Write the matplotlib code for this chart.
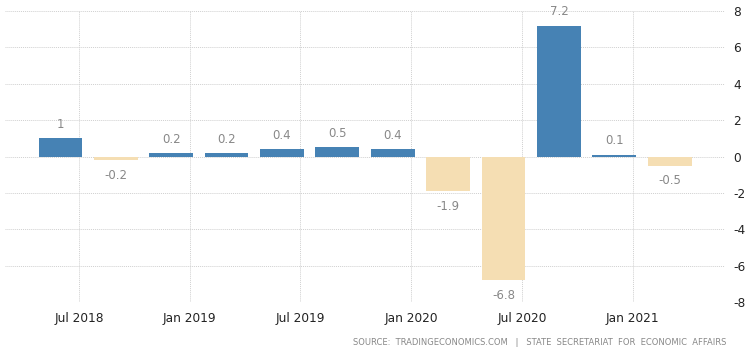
import matplotlib.pyplot as plt
import numpy as np

quarters = ['Q2 2018', 'Q3 2018', 'Q4 2018', 'Q1 2019', 'Q2 2019', 'Q3 2019',
            'Q4 2019', 'Q1 2020', 'Q2 2020', 'Q3 2020', 'Q4 2020', 'Q1 2021']
growth = [1.0, -0.2, 0.2, 0.2, 0.4, 0.5, 0.4, -1.9, -6.8, 7.2, 0.1, -0.5]
tick_labels = ['Jul 2018', 'Jan 2019', 'Jul 2019', 'Jan 2020', 'Jul 2020', 'Jan 2021']
yticks = [-8, -6, -4, -2, 0, 2, 4, 6, 8]

fig = plt.figure(figsize=(7.47, 3.55), dpi=100)
ax = fig.add_axes([0.0067, 0.149, 0.964, 0.82])

x = np.arange(len(growth))
colors = ['#4682B4' if v >= 0 else '#F5DEB3' for v in growth]
ax.bar(x, growth, width=0.79, color=colors, zorder=3)

for xi, v in zip(x, growth):
    lab = f'{v:g}'
    if v >= 0:
        ax.annotate(lab, (xi, v), xytext=(0, 10), textcoords='offset points',
                    ha='center', va='center', fontsize=8.5, color='#888888')
    else:
        ax.annotate(lab, (xi, v), xytext=(0, -11), textcoords='offset points',
                    ha='center', va='center', fontsize=8.5, color='#888888')

# month ticks sit one month after quarter-end bars
tick_pos = [1 / 3 + 2 * k for k in range(len(tick_labels))]
ax.set_xticks(tick_pos)
ax.set_xticklabels(tick_labels, fontsize=8.7, color='#222222')
ax.set_xlim(-1, 12)
ax.set_ylim(-8, 8)
ax.set_yticks(yticks)
ax.set_yticklabels([str(t) for t in yticks], fontsize=8.7, color='#222222')
ax.yaxis.tick_right()
ax.tick_params(axis='both', length=0)
ax.tick_params(axis='y', pad=6)
ax.tick_params(axis='x', pad=7)
ax.grid(True, color='#d0d0d0', linestyle=(0, (1, 1)), linewidth=0.7, zorder=0)
for s in ax.spines.values():
    s.set_visible(False)

fig.text(0.973, 0.022, 'SOURCE:  TRADINGECONOMICS.COM   |   STATE  SECRETARIAT  FOR  ECONOMIC  AFFAIRS',
         ha='right', va='bottom', fontsize=6, color='#888888')

fig.savefig('out.png', dpi=100)
